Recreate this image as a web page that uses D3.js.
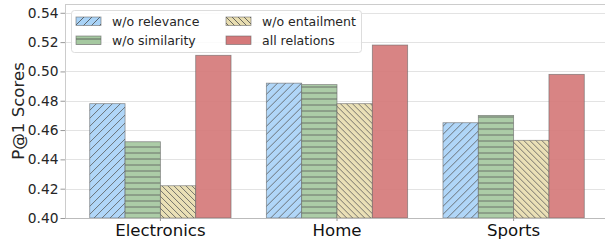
<!DOCTYPE html>
<html>
<head>
<meta charset="utf-8">
<script src="https://cdn.jsdelivr.net/npm/d3@7"></script>
<style>
  body { margin: 0; background: #fff; }
  svg { display: block; font-family: "DejaVu Sans", sans-serif; }
</style>
</head>
<body>
<div id="chart"></div>
<script>
'use strict';

var categories = ['Electronics', 'Home', 'Sports'];
var seriesNames = ['w/o relevance', 'w/o similarity', 'w/o entailment', 'all relations'];
var relevanceVals = [0.478, 0.492, 0.465];
var similarityVals = [0.452, 0.491, 0.470];
var entailmentVals = [0.422, 0.478, 0.453];
var allRelationsVals = [0.511, 0.518, 0.498];
var yTicks = [0.40, 0.42, 0.44, 0.46, 0.48, 0.50, 0.52, 0.54];

var chart = (function() {

    var width = 605,
        height = 242;

    var plotLeft = 65, plotRight = 609, plotTop = 4, plotBottom = 218;

    var colors = ['#a9d3f7', '#a5c8a0', '#e8ddb0', '#d5797a'];
    var hatchIds = ['hatch-fwd', 'hatch-horiz', 'hatch-back', null];

    var seriesVals = [relevanceVals, similarityVals, entailmentVals, allRelationsVals];

    var svg = d3.select('#chart').append('svg')
        .attr('width', width)
        .attr('height', height);

    var defs = svg.append('defs');

    function makePattern(id, color, size, path) {
        var p = defs.append('pattern')
            .attr('id', id)
            .attr('patternUnits', 'userSpaceOnUse')
            .attr('width', size)
            .attr('height', size);
        p.append('rect').attr('width', size).attr('height', size).attr('fill', color);
        p.append('path').attr('d', path)
            .attr('stroke', '#4a4a4a').attr('stroke-width', 0.8).attr('fill', 'none');
    }
    makePattern('hatch-fwd', colors[0], 8, 'M-2,2 L2,-2 M0,8 L8,0 M6,10 L10,6');
    makePattern('hatch-horiz', colors[1], 6, 'M0,3 L6,3');
    makePattern('hatch-back', colors[2], 6, 'M-1,-1 L7,7 M-1,5 L1,7 M5,-1 L7,1');

    var y = d3.scaleLinear().domain([0.40, 0.546]).range([plotBottom, plotTop]);

    var x = d3.scaleBand().domain(categories).range([plotLeft, plotRight])
        .paddingInner(0).paddingOuter(0.04);

    var xInner = d3.scaleBand().domain(d3.range(seriesNames.length))
        .range([x.bandwidth() * 0.1, x.bandwidth() * 0.9]);

    // grid
    svg.append('g').selectAll('line')
        .data(yTicks)
        .enter().append('line')
        .attr('x1', plotLeft).attr('x2', width)
        .attr('y1', function(d) { return Math.round(y(d)) + 0.5; })
        .attr('y2', function(d) { return Math.round(y(d)) + 0.5; })
        .attr('stroke', '#e3e3e3')
        .attr('stroke-width', 1);

    // bars
    var groups = svg.append('g').selectAll('g')
        .data(categories)
        .enter().append('g')
        .attr('transform', function(d) { return 'translate(' + x(d) + ',0)'; });

    groups.selectAll('rect')
        .data(function(d, ci) {
            return seriesVals.map(function(vals, si) { return { s: si, v: vals[ci] }; });
        })
        .enter().append('rect')
        .attr('x', function(d) { return xInner(d.s); })
        .attr('width', xInner.bandwidth())
        .attr('y', function(d) { return y(d.v); })
        .attr('height', function(d) { return plotBottom - y(d.v); })
        .attr('fill', function(d) { return hatchIds[d.s] ? 'url(#' + hatchIds[d.s] + ')' : colors[d.s]; })
        .attr('fill-opacity', 0.92)
        .attr('stroke', '#666')
        .attr('stroke-opacity', 0.7)
        .attr('stroke-width', 0.8);

    // frame
    svg.append('line').attr('x1', plotLeft).attr('x2', width).attr('y1', plotTop + 0.5).attr('y2', plotTop + 0.5)
        .attr('stroke', '#cccccc');
    svg.append('line').attr('x1', plotLeft + 0.5).attr('x2', plotLeft + 0.5).attr('y1', plotTop).attr('y2', plotBottom)
        .attr('stroke', '#cccccc');
    svg.append('line').attr('x1', plotLeft).attr('x2', width).attr('y1', plotBottom + 0.5).attr('y2', plotBottom + 0.5)
        .attr('stroke', '#bbbbbb');

    // y axis
    var yAxis = svg.append('g')
        .attr('transform', 'translate(' + plotLeft + ',0)')
        .call(d3.axisLeft(y).tickValues(yTicks).tickFormat(d3.format('.2f')).tickSize(4.5).tickPadding(2));
    yAxis.select('.domain').remove();
    yAxis.selectAll('.tick line').attr('stroke', '#999');
    yAxis.selectAll('text').attr('font-size', '13.8px').attr('fill', '#262626')
        .attr('font-family', '"DejaVu Sans", sans-serif');

    // x axis
    var xAxis = svg.append('g')
        .attr('transform', 'translate(0,' + plotBottom + ')')
        .call(d3.axisBottom(x).tickSize(3).tickPadding(3));
    xAxis.select('.domain').remove();
    xAxis.selectAll('.tick line').attr('stroke', '#999');
    xAxis.selectAll('text').attr('font-size', '16.6px').attr('fill', '#111')
        .attr('font-family', '"DejaVu Sans", sans-serif');

    // y label
    svg.append('text')
        .attr('transform', 'translate(23.5,' + ((plotTop + plotBottom) / 2) + ') rotate(-90)')
        .attr('text-anchor', 'middle')
        .attr('font-size', '16.6px')
        .attr('fill', '#262626')
        .text('P@1 Scores');

    // legend
    var legend = svg.append('g');
    legend.append('rect')
        .attr('x', 71.5).attr('y', 10.5)
        .attr('width', 290).attr('height', 42)
        .attr('rx', 3)
        .attr('fill', '#fff')
        .attr('fill-opacity', 0.85)
        .attr('stroke', '#dddddd');

    var legendPos = [[76, 17], [76, 36], [226, 17], [226, 36]];
    var items = legend.selectAll('g.item')
        .data(seriesNames)
        .enter().append('g')
        .attr('class', 'item')
        .attr('transform', function(d, i) { return 'translate(' + legendPos[i][0] + ',' + legendPos[i][1] + ')'; });

    items.append('rect')
        .attr('width', 25).attr('height', 8.5)
        .attr('fill', function(d, i) { return hatchIds[i] ? 'url(#' + hatchIds[i] + ')' : colors[i]; })
        .attr('stroke', '#666')
        .attr('stroke-opacity', 0.7)
        .attr('stroke-width', 0.8);

    items.append('text')
        .attr('x', 36).attr('y', 8.7)
        .attr('font-size', '12.5px')
        .attr('fill', '#262626')
        .text(function(d) { return d; });

    return svg;
})();
</script>
</body>
</html>
